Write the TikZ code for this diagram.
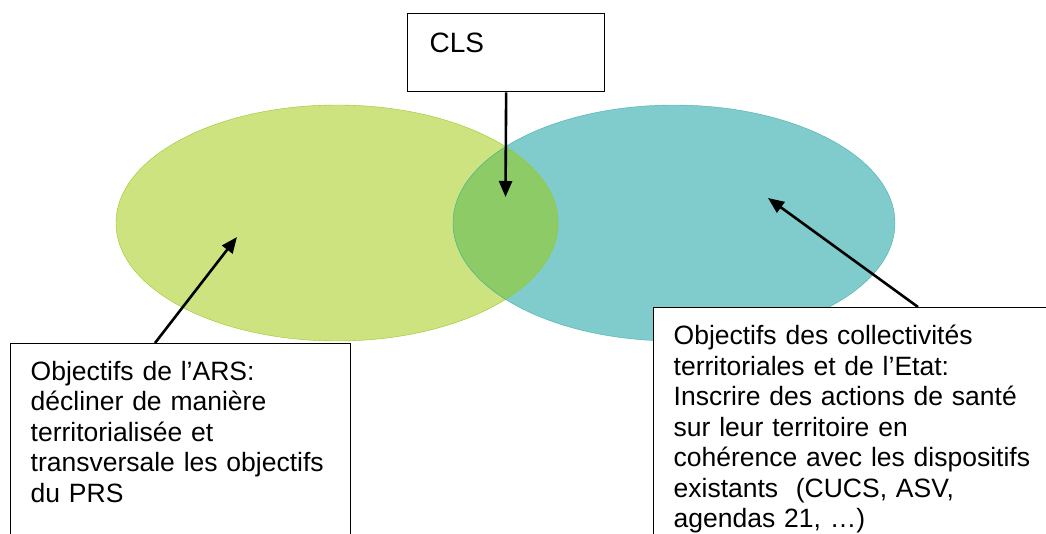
\documentclass[tikz,border=0pt]{standalone}
\usepackage{fontspec}
\setmainfont{Liberation Sans}
\usetikzlibrary{calc}
\usetikzlibrary{arrows.meta}
\usetikzlibrary{shapes.geometric}
\usepackage{xcolor}
\definecolor{arsfill}{RGB}{205,227,128}
\definecolor{arsline}{RGB}{155,200,35}
\definecolor{etatfill}{RGB}{128,203,204}
\definecolor{etatline}{RGB}{30,160,160}
\definecolor{clsfill}{RGB}{140,203,102}

\begin{document}
\begin{tikzpicture}[x=1pt, y=-1pt,
  zone/.style={ellipse, minimum width=442pt, minimum height=236pt, inner sep=0},
  textbox/.style={draw=black, line width=1.3pt, fill=white, anchor=north west, align=left,
    inner xsep=20pt, inner ysep=17.5pt, font=\fontsize{26.5}{30.5}\selectfont},
  pointer/.style={black, line width=2.6pt, ->, >={Triangle[length=16pt,width=13pt]}}]
\useasboundingbox (0,0) rectangle (1046,533);
% the two zones and their overlap
\node[zone, fill=arsfill] (ars) at (337,223) {};
\node[zone, fill=etatfill] (etat) at (674,223) {};
\begin{scope}
\clip (ars.center) ellipse [x radius=221, y radius=118];
\fill[clsfill] (etat.center) ellipse [x radius=221, y radius=118];
\end{scope}
\draw[arsline] (ars.center) ellipse [x radius=221, y radius=118];
\draw[etatline, opacity=.7] (etat.center) ellipse [x radius=221, y radius=118];
% boxes
\node[draw=black, line width=1.3pt, fill=white, anchor=north west, align=left,
  text width=153pt, inner xsep=22pt, inner ysep=19pt, text height=20pt, text depth=20pt,
  font=\fontsize{28}{32}\selectfont] (cls) at (407,13) {CLS};
\node[textbox, text width=300pt, text depth=200pt] (arsbox) at (10,343)
  {Objectifs de l’ARS:\\
   décliner de manière\\
   territorialisée et\\
   transversale les objectifs\\
   du PRS};
\node[textbox, text width=380pt, text depth=240pt] (etatbox) at (653,307)
  {Objectifs des collectivités\\
   territoriales et de l’Etat:\\
   Inscrire des actions de santé\\
   sur leur territoire en\\
   cohérence avec les dispositifs\\
   existants\ \ (CUCS, ASV,\\
   agendas 21, …)};
% arrows
\coordinate (lenstip) at (505.5,197);
\coordinate (arstip) at (237,237);
\coordinate (etattip) at (768,198);
\draw[pointer] (cls.south) -- (lenstip);
\draw[pointer] ($(arsbox.north west)+(145,0)$) -- (arstip);
\draw[pointer] ($(etatbox.north west)+(265,0)$) -- (etattip);
\end{tikzpicture}
\end{document}
